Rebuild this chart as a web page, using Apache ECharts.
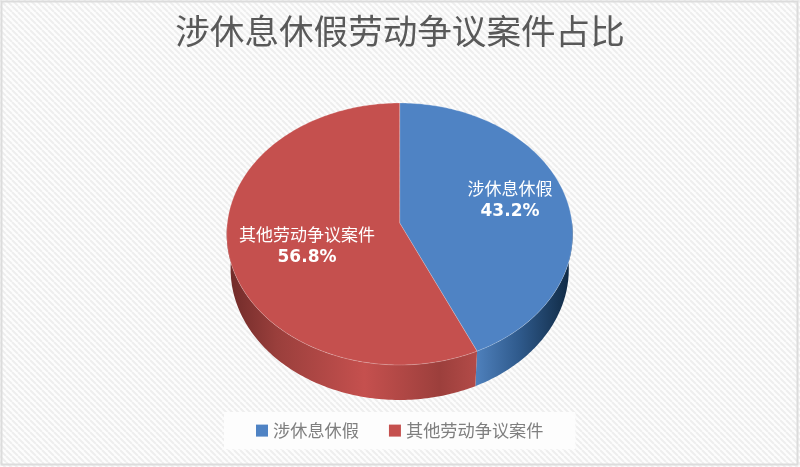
<!DOCTYPE html>
<html><head><meta charset="utf-8">
<style>html,body{margin:0;padding:0;background:#fff}#c{width:800px;height:467px}</style>
<script src="https://cdn.jsdelivr.net/npm/echarts@6/dist/echarts.min.js"></script>
</head><body><div id="c"></div>
<script>
const titleText = '涉休息休假劳动争议案件占比';
const categories = ['涉休息休假', '其他劳动争议案件'];
const shares = [43.2, 56.8];
const sliceColors = ['#4f83c4', '#c5504e'];
const wallStops = [
  [[0, '#4f81bd'], [0.45, '#2f5a8c'], [1, '#0e2740']],
  [[0, '#6e2a28'], [0.2, '#9a3f3c'], [0.55, '#c5504e'], [0.85, '#9c3f3c'], [1, '#b34b48']]
];

// Perspective view of the disc: the centre sits above the middle of the ellipse.
const PERSP = {cx: 399.7, k: 172.4, a: -111.3, b: 223, c: 0.084};
const TOP = {k: PERSP.k, dy: 0};
const BOT = {k: 168.5, dy: 35};
const APEX = [PERSP.cx, PERSP.b];

function pt(e, deg) {
  const t = deg * Math.PI / 180, u = Math.cos(t), d = 1 + PERSP.c * u;
  return [PERSP.cx + e.k * Math.sin(t) / d, (PERSP.a * u + PERSP.b) / d + e.dy];
}
function arcPts(e, a, b) {
  const out = [], n = Math.max(2, Math.ceil(Math.abs(b - a)));
  for (let i = 0; i <= n; i++) out.push(pt(e, a + (b - a) * i / n));
  return out;
}
function startAngle(idx) {
  const total = shares.reduce((s, v) => s + v, 0);
  return shares.slice(0, idx).reduce((s, v) => s + v, 0) / total * 360;
}
function sweep(idx) {
  const total = shares.reduce((s, v) => s + v, 0);
  return shares[idx] / total * 360;
}

function makeRender(idx) {
  return function () {
    const a0 = startAngle(idx), a1 = a0 + sweep(idx);
    // the outer wall is visible on the lower half of the disc only
    const wa = Math.max(a0, 90), wb = Math.min(a1, 270);
    const wallTop = arcPts(TOP, wa, wb), wallBot = arcPts(BOT, wb, wa);
    const wall = wallTop.concat(wallBot);
    const xs = wall.map(p => p[0]), x0 = Math.min(...xs), x1 = Math.max(...xs);
    const stops = wallStops[idx].map(s => ({offset: s[0], color: s[1]}));
    const face = [APEX].concat(arcPts(TOP, a0, a1));
    return {
      type: 'group',
      children: [
        {type: 'polygon', z2: 1, shape: {points: wall},
          style: {fill: new echarts.graphic.LinearGradient(x0, 0, x1, 0, stops, true)}},
        {type: 'polygon', z2: 2, shape: {points: face},
          style: {fill: sliceColors[idx], stroke: 'rgba(255,255,255,0.3)', lineWidth: 0.7}},
      ]
    };
  };
}

const labelPos = [[510, 200.5], [307, 246.5]];
const labelGraphics = categories.map((c, i) => ({
  type: 'text', x: labelPos[i][0], y: labelPos[i][1], z: 10,
  style: {
    text: '{n|' + c + '}\n{v|' + shares[i].toFixed(1) + '%}',
    align: 'center', verticalAlign: 'middle',
    rich: {
      n: {fontFamily: 'Noto Sans CJK SC', fontSize: 17, fill: '#fff', lineHeight: 23},
      v: {fontFamily: 'DejaVu Sans', fontWeight: 'bold', fontSize: 17, fill: '#fff', lineHeight: 23}
    }
  }
}));
const frame = {
  type: 'rect', z: -1, silent: true,
  shape: {x: 1.5, y: 1.5, width: 796, height: 463},
  style: {fill: 'transparent', stroke: '#dcdcdc', lineWidth: 2}
};

function hatch() {
  const c = document.createElement('canvas'); c.width = 6; c.height = 6;
  const g = c.getContext('2d');
  g.fillStyle = '#fdfdfd'; g.fillRect(0, 0, 6, 6);
  g.strokeStyle = '#eeeeee'; g.lineWidth = 2;
  [-6, 0, 6].forEach(o => { g.beginPath(); g.moveTo(o, 0); g.lineTo(o + 6, 6); g.stroke(); });
  return c;
}

const chart = echarts.init(document.getElementById('c'), null, {renderer: 'canvas'});
chart.setOption({
  animation: false,
  backgroundColor: {image: hatch(), repeat: 'repeat'},
  title: {text: titleText, left: 'center', top: 9,
    textStyle: {fontFamily: 'Noto Sans CJK SC', fontSize: 34.6, fontWeight: 'normal', color: '#595959'}},
  legend: {
    data: categories, top: 412, left: 224, icon: 'rect', itemWidth: 12, itemHeight: 12, itemGap: 30,
    backgroundColor: '#fdfdfd', padding: [10, 32],
    textStyle: {fontFamily: 'Noto Sans CJK SC', fontSize: 17.2, color: '#7f7f7f'}
  },
  graphic: labelGraphics.concat([frame]),
  series: categories.map((c, i) => ({
    type: 'custom', name: c, coordinateSystem: 'none', silent: true,
    itemStyle: {color: sliceColors[i]},
    data: [shares[i]], renderItem: makeRender(i)
  }))
});
</script></body></html>
